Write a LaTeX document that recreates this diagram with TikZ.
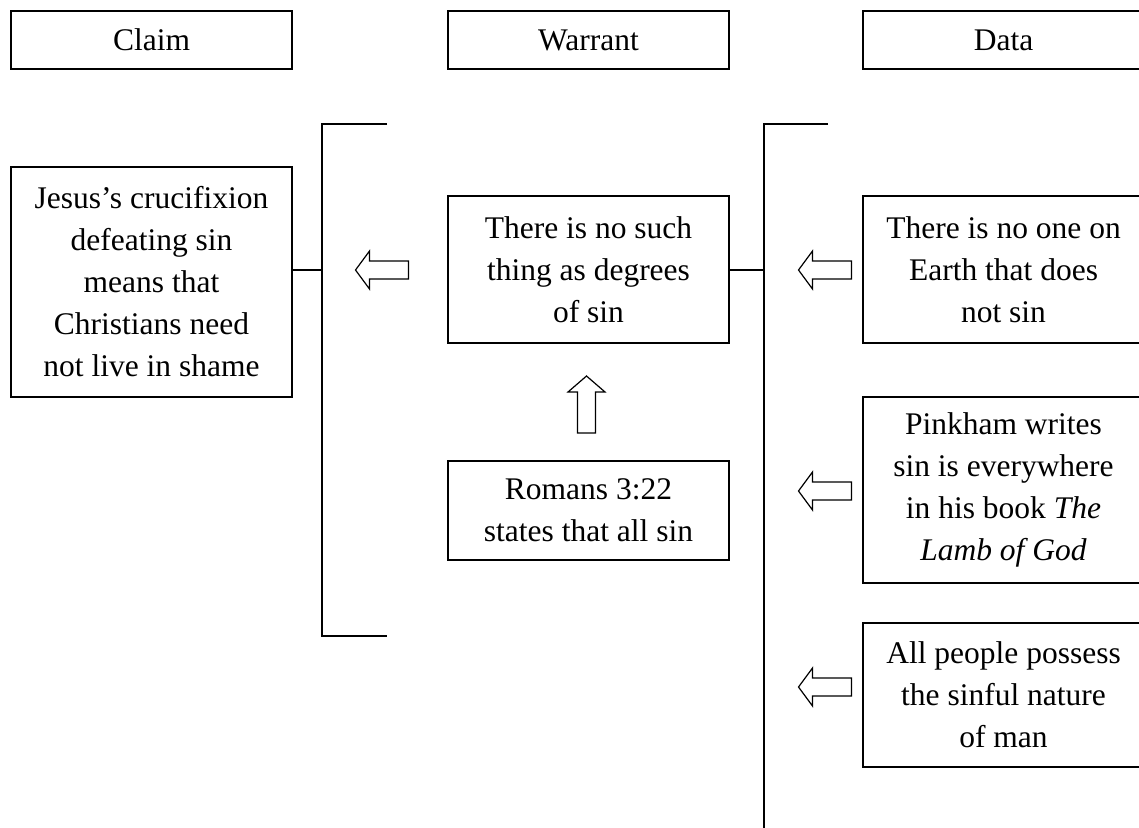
\documentclass[tikz,border=0pt]{standalone}
\usepackage{fontspec}
\setmainfont{Liberation Serif}
\begin{document}
\begin{tikzpicture}[x=1pt,y=-1pt,
  every node/.style={font=\fontsize{31.5}{42}\selectfont},
  box/.style={draw, line width=1.2pt, inner sep=0pt, align=center, minimum width=281pt},
  link/.style={line width=1.2pt},
  % hollow block arrow pointing left, centred on the origin
  leftblock/.pic={\draw[line width=1.2pt, fill=white]
      (-26.5,0) -- (-12.5,-19) -- (-12.5,-9) -- (26.5,-9) -- (26.5,9)
      -- (-12.5,9) -- (-12.5,19) -- cycle;},
  % hollow block arrow pointing up, centred on the origin
  upblock/.pic={\draw[line width=1.2pt, fill=white]
      (0,-28.5) -- (18.5,-12.5) -- (9,-12.5) -- (9,28.5) -- (-9,28.5)
      -- (-9,-12.5) -- (-18.5,-12.5) -- cycle;}
]
\useasboundingbox (0,0) rectangle (1139,827);
\clip (0,0) rectangle (1139,827);

% column headings
\node[box, minimum height=58pt] (hclaim)   at (151.5,40)  {Claim};
\node[box, minimum height=58pt] (hwarrant) at (588.5,40)  {Warrant};
\node[box, minimum height=58pt] (hdata)    at (1003.5,40) {Data};

% claim
\node[box, minimum height=230pt] (claim) at (151.5,282)
  {Jesus’s crucifixion\\defeating sin\\means that\\Christians need\\not live in shame};

% warrant and its backing
\node[box, minimum height=147pt] (warrant) at (588.5,269.5)
  {There is no such\\thing as degrees\\of sin};
\node[box, minimum height=99pt] (romans) at (588.5,510.5)
  {Romans 3:22\\states that all sin};

% data
\node[box, minimum height=147pt] (d1) at (1003.5,269.5)
  {There is no one on\\Earth that does\\not sin};
\node[box, minimum height=186pt] (d2) at (1003.5,490)
  {Pinkham writes\\sin is everywhere\\in his book \textit{The}\\\textit{Lamb of God}};
\node[box, minimum height=144pt] (d3) at (1003.5,695)
  {All people possess\\the sinful nature\\of man};

% brackets
\coordinate (lb) at (322,270);
\coordinate (rb) at (764,270);
\draw[link] (387,124) -- (322,124) -- (322,636) -- (387,636);
\draw[link] (828,124) -- (764,124) -- (764,830);
\draw[link] (claim.east |- lb) -- (lb);
\draw[link] (warrant.east |- rb) -- (rb);

% block arrows
\pic at (382,270) {leftblock};
\pic at (825,270) {leftblock};
\pic at (825,491) {leftblock};
\pic at (825,687) {leftblock};
\pic at (586.5,404.5) {upblock};
\end{tikzpicture}
\end{document}
